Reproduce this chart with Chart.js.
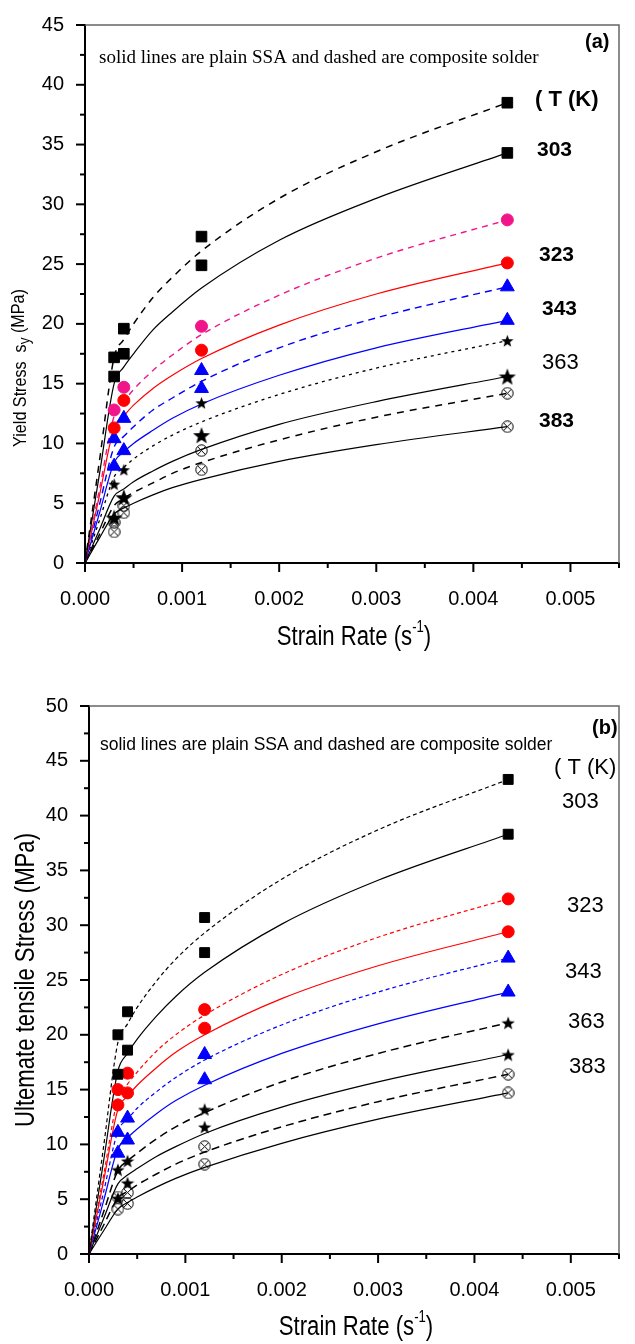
<!DOCTYPE html>
<html>
<head>
<meta charset="utf-8">
<script src="https://cdn.jsdelivr.net/npm/chart.js@4.4.0/dist/chart.umd.min.js"></script>
<style>
html, body { margin: 0; padding: 0; background: #fff; }
body { width: 635px; height: 1344px; position: relative; overflow: hidden; }
canvas { position: absolute; left: 0; }
#chartA { top: 0; }
#chartB { top: 672px; }
</style>
</head>
<body>
<canvas id="chartA" width="635" height="672"></canvas>
<canvas id="chartB" width="635" height="672"></canvas>
<script>
// strain rates of the measured points (s^-1)
const strainRate = [0.0003, 0.0004, 0.0012, 0.00435];
const fitRate = [0, 0.00015, 0.0003, 0.0004, 0.0005, 0.0007, 0.0009, 0.0012, 0.002, 0.003, 0.00435];

const xTickLabels = ['0.000', '0.001', '0.002', '0.003', '0.004', '0.005'];
const yieldTickLabels = ['0', '5', '10', '15', '20', '25', '30', '35', '40', '45'];
const utsTickLabels = ['0', '5', '10', '15', '20', '25', '30', '35', '40', '45', '50'];
const temps = ['303', '323', '343', '363', '383'];

// (a) yield stress, MPa  -- comp = composite solder, plain = plain SSA
const yieldComp303 = [17.2, 19.6, 27.3, 38.5];
const yieldPlain303 = [15.6, 17.5, 24.9, 34.3];
const yieldComp323 = [12.8, 14.7, 19.8, 28.7];
const yieldPlain323 = [11.3, 13.6, 17.8, 25.1];
const yieldComp343 = [10.4, 12.1, 16.1, 23.1];
const yieldPlain343 = [8.1, 9.4, 14.6, 20.3];
const yieldComp363 = [6.6, 7.8, 13.4, 18.6];
const yieldPlain363 = [3.8, 5.5, 10.7, 15.6];
const yieldComp383 = [3.4, 4.8, 9.4, 14.2];
const yieldPlain383 = [2.6, 4.2, 7.8, 11.4];

// (a) fitted curves
const yieldFitComp303 = [0, 8.6, 17.2, 18.7, 20.0, 22.2, 23.9, 26.1, 30.5, 34.4, 38.5];
const yieldFitPlain303 = [0, 7.5, 15.0, 16.4, 17.5, 19.5, 21.0, 23.0, 27.0, 30.5, 34.3];
const yieldFitComp323 = [0, 6.2, 12.3, 13.5, 14.5, 16.1, 17.4, 19.1, 22.4, 25.5, 28.7];
const yieldFitPlain323 = [0, 5.7, 11.3, 12.3, 13.2, 14.6, 15.7, 17.1, 19.9, 22.5, 25.1];
const yieldFitComp343 = [0, 4.9, 9.7, 10.6, 11.4, 12.8, 13.8, 15.2, 18.0, 20.5, 23.1];
const yieldFitPlain343 = [0, 4.2, 8.4, 9.3, 10.0, 11.1, 12.1, 13.3, 15.7, 18.0, 20.3];
const yieldFitComp363 = [0, 3.6, 7.2, 8.0, 8.7, 9.8, 10.7, 11.8, 14.1, 16.3, 18.6];
const yieldFitPlain363 = [0, 2.8, 5.6, 6.2, 6.8, 7.7, 8.5, 9.5, 11.6, 13.5, 15.6];
const yieldFitComp383 = [0, 2.4, 4.8, 5.4, 5.9, 6.7, 7.5, 8.4, 10.3, 12.2, 14.2];
const yieldFitPlain383 = [0, 2.1, 4.1, 4.6, 5.0, 5.7, 6.3, 7.0, 8.5, 9.9, 11.4];

// (b) ultimate tensile stress, MPa
const utsComp303 = [20.0, 22.1, 30.7, 43.3];
const utsPlain303 = [16.4, 18.6, 27.5, 38.3];
const utsComp323 = [15.0, 16.5, 22.3, 32.4];
const utsPlain323 = [13.6, 14.7, 20.6, 29.4];
const utsComp343 = [11.1, 12.4, 18.2, 27.0];
const utsPlain343 = [9.2, 10.4, 15.9, 23.9];
const utsComp363 = [7.7, 8.5, 13.2, 21.1];
const utsPlain363 = [5.1, 6.5, 11.6, 18.2];
const utsComp383 = [5.2, 5.6, 9.8, 16.4];
const utsPlain383 = [4.1, 4.6, 8.2, 14.7];

// (b) fitted curves
const utsFitComp303 = [0, 9.7, 19.3, 21.0, 22.5, 24.9, 26.9, 29.3, 34.2, 38.7, 43.3];
const utsFitPlain303 = [0, 8.4, 16.7, 18.3, 19.6, 21.7, 23.5, 25.7, 30.1, 34.1, 38.3];
const utsFitComp323 = [0, 7.1, 14.2, 15.5, 16.6, 18.5, 20.0, 21.8, 25.5, 28.9, 32.4];
const utsFitPlain323 = [0, 6.6, 13.2, 14.4, 15.4, 17.0, 18.4, 20.0, 23.3, 26.3, 29.4];
const utsFitComp343 = [0, 5.6, 11.2, 12.3, 13.3, 14.8, 16.1, 17.7, 20.9, 23.9, 27.0];
const utsFitPlain343 = [0, 4.8, 9.6, 10.6, 11.4, 12.8, 14.0, 15.4, 18.3, 21.0, 23.9];
const utsFitComp363 = [0, 3.8, 7.6, 8.5, 9.2, 10.5, 11.6, 12.9, 15.7, 18.3, 21.1];
const utsFitPlain363 = [0, 3.2, 6.4, 7.2, 7.8, 8.9, 9.8, 11.0, 13.4, 15.7, 18.2];
const utsFitComp383 = [0, 2.6, 5.1, 5.7, 6.3, 7.3, 8.2, 9.3, 11.6, 13.9, 16.4];
const utsFitPlain383 = [0, 2.1, 4.1, 4.7, 5.2, 6.1, 6.9, 7.9, 10.1, 12.3, 14.7];

const SANS = '"Liberation Sans", Arial, sans-serif';
const SERIF = '"Liberation Serif", "Times New Roman", serif';

// marker images for the styles Chart.js doesn't have
function starImg(size, color) {
  const c = document.createElement('canvas');
  c.width = c.height = size;
  const g = c.getContext('2d');
  const cx = size / 2, cy = size / 2 + size * 0.06, R = size / 2, r = R * 0.42;
  g.beginPath();
  for (let i = 0; i < 10; i++) {
    const a = -Math.PI / 2 + i * Math.PI / 5;
    const rr = i % 2 ? r : R;
    g.lineTo(cx + rr * Math.cos(a), cy + rr * Math.sin(a));
  }
  g.closePath();
  g.fillStyle = color;
  g.fill();
  return c;
}

function crossCircleImg(size) {
  const c = document.createElement('canvas');
  c.width = c.height = size;
  const g = c.getContext('2d');
  const m = size / 2, rr = size / 2 - 0.8, k = rr * 0.72;
  g.strokeStyle = '#000';
  g.lineWidth = 1;
  g.beginPath();
  g.arc(m, m, rr, 0, Math.PI * 2);
  g.stroke();
  g.beginPath();
  g.moveTo(m - k, m - k); g.lineTo(m + k, m + k);
  g.moveTo(m + k, m - k); g.lineTo(m - k, m + k);
  g.stroke();
  return c;
}

function markers(values, style, color, radius) {
  return {
    data: strainRate.map((x, i) => ({ x: x, y: values[i] })),
    showLine: false,
    pointStyle: style,
    pointRadius: radius,
    pointHoverRadius: radius,
    pointBackgroundColor: color,
    pointBorderColor: color,
    pointBorderWidth: 1
  };
}

function fitLine(values, color, dash, width) {
  return {
    data: fitRate.map((x, i) => ({ x: x, y: values[i] })),
    showLine: true,
    pointRadius: 0,
    pointHoverRadius: 0,
    borderColor: color,
    borderWidth: width,
    borderDash: dash,
    cubicInterpolationMode: 'monotone',
    fill: false
  };
}

function isMultiple(v, step) {
  const q = v / step;
  return Math.abs(q - Math.round(q)) < 1e-6;
}

// axis ticks (long major, short minor) and the top/right frame
const frameTicks = {
  id: 'frameTicks',
  afterDatasetsDraw(chart) {
    const ctx = chart.ctx, a = chart.chartArea;
    const xs = chart.scales.x, ys = chart.scales.y;
    ctx.save();
    ctx.strokeStyle = '#666';
    ctx.lineWidth = 1.5;
    ctx.beginPath();
    ctx.moveTo(a.left, a.top); ctx.lineTo(a.right, a.top); ctx.lineTo(a.right, a.bottom);
    ctx.stroke();
    ctx.strokeStyle = '#000';
    ctx.lineWidth = 2;
    xs.ticks.forEach(t => {
      const px = xs.getPixelForValue(t.value);
      const len = isMultiple(t.value, 0.001) ? 9 : 5;
      ctx.beginPath(); ctx.moveTo(px, a.bottom); ctx.lineTo(px, a.bottom + len); ctx.stroke();
    });
    ys.ticks.forEach(t => {
      const py = ys.getPixelForValue(t.value);
      const len = isMultiple(t.value, 5) ? 9 : 5;
      ctx.beginPath(); ctx.moveTo(a.left, py); ctx.lineTo(a.left - len, py); ctx.stroke();
    });
    ctx.restore();
  }
};

// runs of text with different sizes (sub/superscripts), narrowed horizontally
function drawRuns(ctx, runs, cx, cy, angle, squeeze) {
  ctx.save();
  ctx.translate(cx, cy);
  ctx.rotate(angle || 0);
  ctx.scale(squeeze || 1, 1);
  ctx.textBaseline = 'middle';
  ctx.textAlign = 'left';
  let total = 0;
  runs.forEach(r => { ctx.font = r.font; total += ctx.measureText(r.t).width; });
  let x = -total / 2;
  runs.forEach(r => {
    ctx.font = r.font;
    ctx.fillStyle = '#000';
    ctx.fillText(r.t, x, r.dy || 0);
    x += ctx.measureText(r.t).width;
  });
  ctx.restore();
}

const panelText = {
  id: 'panelText',
  afterDraw(chart, args, opts) {
    const ctx = chart.ctx, a = chart.chartArea;
    ctx.save();
    ctx.fillStyle = '#000';
    (opts.items || []).forEach(it => {
      ctx.font = it.font;
      ctx.textAlign = it.align || 'left';
      ctx.textBaseline = it.baseline || 'middle';
      ctx.fillText(it.text, it.x, it.y);
    });
    ctx.restore();
    drawRuns(ctx, [
      { t: 'Strain Rate (s', font: '27px ' + SANS },
      { t: '-1', font: '16px ' + SANS, dy: -10 },
      { t: ')', font: '27px ' + SANS }
    ], (a.left + a.right) / 2 + 2, opts.xTitleY, 0, 0.82);
    drawRuns(ctx, opts.yTitle, opts.yTitleX, (a.top + a.bottom) / 2 + (opts.yTitleShift || 0), -Math.PI / 2, opts.yTitleSqueeze);
  }
};

function scalesFor(yMax, yLabels, yWidth, xHeight) {
  return {
    x: {
      type: 'linear',
      min: 0,
      max: 0.0055,
      grid: { display: false },
      border: { display: true, color: '#000', width: 2 },
      ticks: {
        stepSize: 0.0005,
        padding: 16,
        autoSkip: false,
        maxRotation: 0,
        color: '#000',
        font: { family: SANS, size: 20 },
        callback: v => isMultiple(v, 0.001) ? xTickLabels[Math.round(v / 0.001)] : ''
      },
      afterFit: s => { s.height = xHeight; }
    },
    y: {
      type: 'linear',
      min: 0,
      max: yMax,
      grid: { display: false },
      border: { display: true, color: '#000', width: 2 },
      ticks: {
        stepSize: 2.5,
        padding: 13,
        autoSkip: false,
        color: '#000',
        font: { family: SANS, size: 20 },
        callback: v => isMultiple(v, 5) ? yLabels[Math.round(v / 5)] : ''
      },
      afterFit: s => { s.width = yWidth; }
    }
  };
}

const baseOptions = {
  responsive: false,
  animation: false,
  devicePixelRatio: 1,
  events: []
};

// ---------- (a) yield stress ----------
const pink = '#f0168a', red = '#ff0000', blue = '#0000ff', black = '#000000';

new Chart(document.getElementById('chartA').getContext('2d'), {
  type: 'scatter',
  data: {
    datasets: [
      markers(yieldComp303, 'rect', black, 7.5),
      markers(yieldPlain303, 'rect', black, 7.5),
      markers(yieldComp323, 'circle', pink, 6),
      markers(yieldPlain323, 'circle', red, 6),
      markers(yieldComp343, 'triangle', blue, 8),
      markers(yieldPlain343, 'triangle', blue, 8),
      markers(yieldComp363, starImg(13, black), black, 6),
      markers(yieldPlain363, starImg(18, black), black, 8),
      markers(yieldComp383, crossCircleImg(13), black, 6),
      markers(yieldPlain383, crossCircleImg(13), black, 6),
      fitLine(yieldFitComp303, black, [7, 6], 1.5),
      fitLine(yieldFitPlain303, black, [], 1.2),
      fitLine(yieldFitComp323, pink, [6, 5], 1.4),
      fitLine(yieldFitPlain323, red, [], 1.2),
      fitLine(yieldFitComp343, blue, [7, 5], 1.4),
      fitLine(yieldFitPlain343, blue, [], 1.2),
      fitLine(yieldFitComp363, black, [3, 4], 1.3),
      fitLine(yieldFitPlain363, black, [], 1.2),
      fitLine(yieldFitComp383, black, [7, 6], 1.5),
      fitLine(yieldFitPlain383, black, [], 1.2)
    ]
  },
  options: Object.assign({}, baseOptions, {
    layout: { padding: { top: 20, right: 7, left: 0, bottom: 0 } },
    scales: scalesFor(45, yieldTickLabels, 85, 109),
    plugins: {
      legend: { display: false },
      tooltip: { enabled: false },
      panelText: {
        xTitleY: 638,
        yTitleX: 21,
        yTitleShift: 74,
        yTitleSqueeze: 0.85,
        yTitle: [
          { t: 'Yield Stress  s', font: '19px ' + SANS },
          { t: 'y', font: '16px ' + SANS, dy: 5 },
          { t: ' (MPa)', font: '19px ' + SANS, dy: -2 }
        ],
        items: [
          { text: 'solid lines are plain SSA and dashed are composite solder', x: 99, y: 63, baseline: 'alphabetic', font: '19px ' + SERIF },
          { text: '(a)', x: 585, y: 42, font: 'bold 20px ' + SANS },
          { text: '( T (K)', x: 535, y: 100, font: 'bold 22px ' + SANS },
          { text: temps[0], x: 537, y: 150, font: 'bold 21px ' + SANS },
          { text: temps[1], x: 539, y: 255, font: 'bold 21px ' + SANS },
          { text: temps[2], x: 542, y: 309, font: 'bold 21px ' + SANS },
          { text: temps[3], x: 542, y: 363, font: '22px ' + SANS },
          { text: temps[4], x: 539, y: 421, font: 'bold 21px ' + SANS }
        ]
      }
    }
  }),
  plugins: [frameTicks, panelText]
});

// ---------- (b) ultimate tensile stress ----------
new Chart(document.getElementById('chartB').getContext('2d'), {
  type: 'scatter',
  data: {
    datasets: [
      markers(utsComp303, 'rect', black, 7),
      markers(utsPlain303, 'rect', black, 7),
      markers(utsComp323, 'circle', red, 6),
      markers(utsPlain323, 'circle', red, 6),
      markers(utsComp343, 'triangle', blue, 8),
      markers(utsPlain343, 'triangle', blue, 8),
      markers(utsComp363, starImg(14, black), black, 7),
      markers(utsPlain363, starImg(14, black), black, 7),
      markers(utsComp383, crossCircleImg(13), black, 6),
      markers(utsPlain383, crossCircleImg(13), black, 6),
      fitLine(utsFitComp303, black, [4, 3], 1.2),
      fitLine(utsFitPlain303, black, [], 1.2),
      fitLine(utsFitComp323, red, [4, 3], 1.2),
      fitLine(utsFitPlain323, red, [], 1.2),
      fitLine(utsFitComp343, blue, [4, 3], 1.2),
      fitLine(utsFitPlain343, blue, [], 1.2),
      fitLine(utsFitComp363, black, [8, 5], 1.5),
      fitLine(utsFitPlain363, black, [], 1.2),
      fitLine(utsFitComp383, black, [8, 5], 1.5),
      fitLine(utsFitPlain383, black, [], 1.2)
    ]
  },
  options: Object.assign({}, baseOptions, {
    layout: { padding: { top: 34, right: 7, left: 0, bottom: 0 } },
    scales: scalesFor(50, utsTickLabels, 89, 90),
    plugins: {
      legend: { display: false },
      tooltip: { enabled: false },
      panelText: {
        xTitleY: 656,
        yTitleX: 27,
        yTitleShift: 0,
        yTitleSqueeze: 0.82,
        yTitle: [
          { t: 'Ultemate tensile Stress (MPa)', font: '27px ' + SANS }
        ],
        items: [
          { text: 'solid lines are plain SSA and dashed are composite solder', x: 100, y: 78, baseline: 'alphabetic', font: '17.5px ' + SANS },
          { text: '(b)', x: 592, y: 56, font: 'bold 20px ' + SANS },
          { text: '( T (K)', x: 554, y: 96, font: '22px ' + SANS },
          { text: temps[0], x: 562, y: 130, font: '22px ' + SANS },
          { text: temps[1], x: 567, y: 234, font: '22px ' + SANS },
          { text: temps[2], x: 565, y: 300, font: '22px ' + SANS },
          { text: temps[3], x: 568, y: 350, font: '22px ' + SANS },
          { text: temps[4], x: 569, y: 395, font: '22px ' + SANS }
        ]
      }
    }
  }),
  plugins: [frameTicks, panelText]
});
</script>
</body>
</html>
